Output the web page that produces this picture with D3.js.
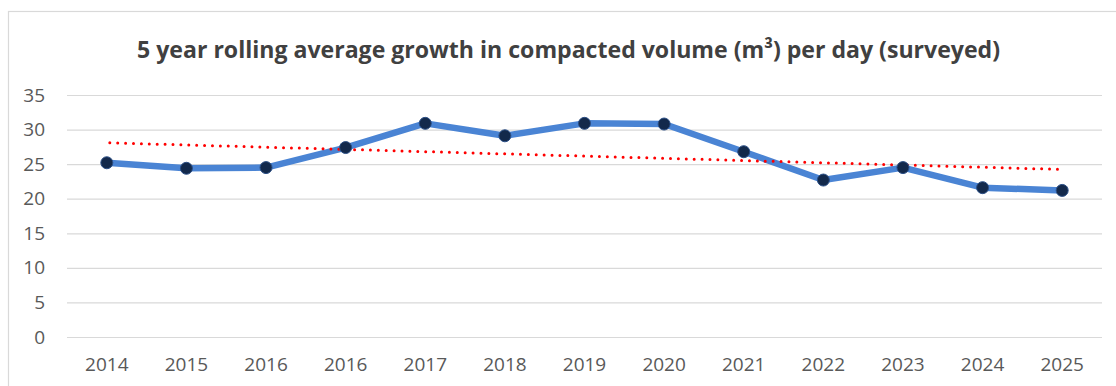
<!DOCTYPE html>
<html>
<head>
<meta charset="utf-8">
<script src="https://cdn.jsdelivr.net/npm/d3@7"></script>
<style>
  html, body { margin: 0; padding: 0; background: #fff; }
  svg { display: block; }
</style>
</head>
<body>
<svg id="chart" width="1116" height="386"></svg>
<script>
// Year labels along the category axis (2016 appears twice in the source series)
const categories = ["2014", "2015", "2016", "2016", "2017", "2018", "2019",
                    "2020", "2021", "2022", "2023", "2024", "2025"];
// 5 year rolling average growth in compacted volume, m³ per day
const values = [25.2, 24.4, 24.5, 27.4, 30.9, 29.1, 30.9, 30.8, 26.8, 22.7, 24.5, 21.6, 21.2];
const yTicks = [0, 5, 10, 15, 20, 25, 30, 35];

const W = 1116, H = 386;
const margin = { left: 67, right: 14, top: 95, bottom: 49 };
const labelFont = "'Open Sans', Lato, sans-serif";
const svg = d3.select("#chart");

// chart area outline
svg.append("rect")
  .attr("x", 8.5).attr("y", 11.5)
  .attr("width", W + 10).attr("height", H + 10)
  .attr("fill", "#fff").attr("stroke", "#d9d9d9").attr("stroke-width", 1.2);

const x = d3.scaleBand()
  .domain(d3.range(categories.length))
  .range([margin.left, W - margin.right]);

const y = d3.scaleLinear()
  .domain([0, 35])
  .range([H - margin.bottom, margin.top]);

// horizontal gridlines and value labels
const yAxis = d3.axisLeft(y).tickValues(yTicks)
  .tickSize(-(W - margin.right - margin.left)).tickPadding(22);
const gy = svg.append("g")
  .attr("transform", `translate(${margin.left},0)`)
  .call(yAxis);
gy.select(".domain").remove();
gy.selectAll(".tick line").attr("stroke", "#d9d9d9").attr("stroke-width", 1.2);
gy.selectAll(".tick text")
  .attr("fill", "#595959")
  .style("font-family", labelFont)
  .style("font-size", "19px");

// category axis labels
const xAxis = d3.axisBottom(x).tickFormat(i => categories[i]).tickSize(0).tickPadding(21);
const gx = svg.append("g")
  .attr("transform", `translate(0,${H - margin.bottom})`)
  .call(xAxis);
gx.select(".domain").remove();
gx.selectAll(".tick text")
  .attr("fill", "#595959")
  .style("font-family", labelFont)
  .style("font-size", "19px");

const cx = i => x(i) + x.bandwidth() / 2;

// linear trend (least squares) over the series
const n = values.length;
const mx = d3.mean(d3.range(n));
const my = d3.mean(values);
const slope = d3.sum(values, (v, i) => (i - mx) * (v - my)) /
              d3.sum(d3.range(n), i => (i - mx) * (i - mx));
const intercept = my - slope * mx;
const trend = [0, n - 1].map(i => ({ i, v: intercept + slope * i }));

// main series line
svg.append("path")
  .datum(values)
  .attr("fill", "none")
  .attr("stroke", "#4a84d4")
  .attr("stroke-width", 6.5)
  .attr("stroke-linejoin", "round")
  .attr("stroke-linecap", "round")
  .attr("d", d3.line().x((d, i) => cx(i)).y(d => y(d)));

// trendline, red dotted
svg.append("path")
  .datum(trend)
  .attr("fill", "none")
  .attr("stroke", "#ff0000")
  .attr("stroke-width", 3)
  .attr("stroke-linecap", "round")
  .attr("stroke-dasharray", "0 7.9")
  .attr("d", d3.line().x(d => cx(d.i) + 3).y(d => y(d.v)));

// point markers
svg.append("g").selectAll("circle")
  .data(values)
  .join("circle")
  .attr("cx", (d, i) => cx(i))
  .attr("cy", d => y(d))
  .attr("r", 6)
  .attr("fill", "#13294b")
  .attr("stroke", "#2b4f86")
  .attr("stroke-width", 1);

// title, condensed to the title width
svg.append("text")
  .attr("x", 137).attr("y", 58)
  .attr("textLength", 863)
  .attr("lengthAdjust", "spacingAndGlyphs")
  .attr("fill", "#404040")
  .style("font-family", "'Open Sans', Lato, sans-serif")
  .style("font-weight", "bold")
  .style("font-size", "24px")
  .text("5 year rolling average growth in compacted volume (m³) per day (surveyed)");
</script>
</body>
</html>
